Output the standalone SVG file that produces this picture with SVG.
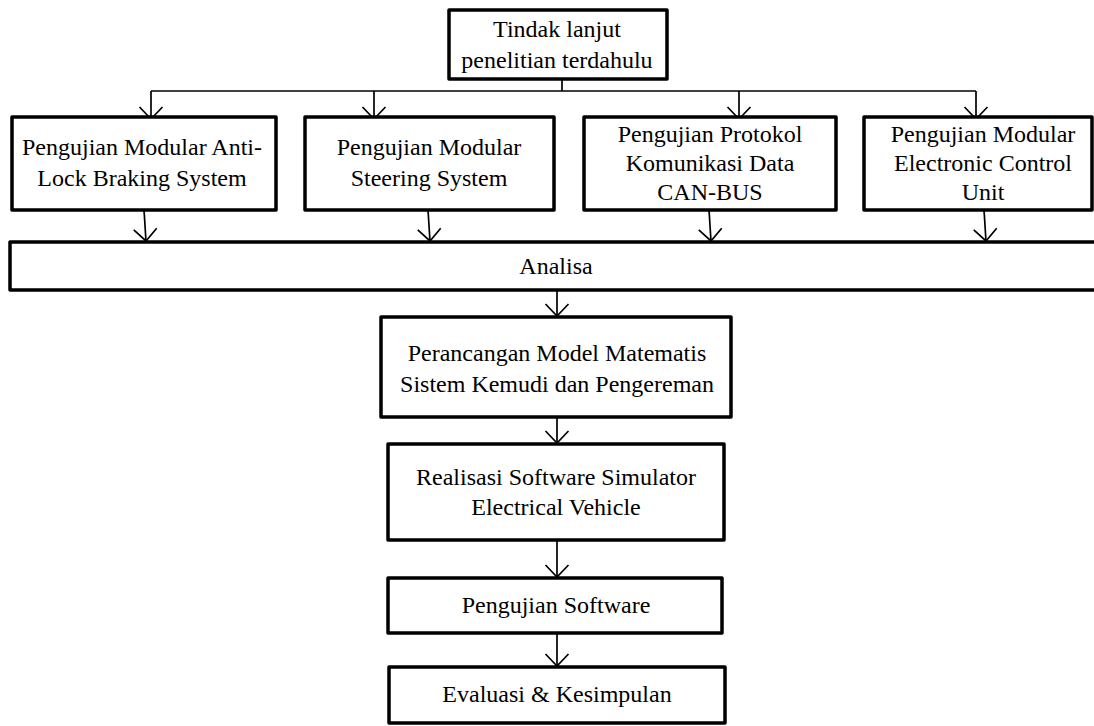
<svg xmlns="http://www.w3.org/2000/svg" width="1094" height="726" viewBox="0 0 1094 726">
  <style>
    .box { fill: #ffffff; stroke: #000000; stroke-width: 3.5; stroke-linejoin: round; }
    .lbl { font-family: "Liberation Serif", "Times New Roman", serif; font-size: 24px; fill: #000000; text-anchor: middle; }
    .wire { fill: none; stroke: #000000; stroke-width: 1.7; }
  </style>
  <defs>
    <marker id="arrow" markerUnits="userSpaceOnUse" markerWidth="30" markerHeight="30" viewBox="-15 -15 30 30" refX="0" refY="0" orient="auto" overflow="visible">
      <path d="M -12 -11.5 L 0 0 L -12 11.5" fill="none" stroke="#000000" stroke-width="1.7"/>
    </marker>
  </defs>
  <rect width="1094" height="726" fill="#ffffff"/>

  <!-- connectors -->
  <g id="connectors">
    <line class="wire" x1="562" y1="79" x2="562" y2="91"/>
    <line class="wire" x1="151" y1="91" x2="976" y2="91"/>
    <line class="wire" x1="151" y1="91" x2="151" y2="119" marker-end="url(#arrow)"/>
    <line class="wire" x1="374" y1="91" x2="374" y2="119" marker-end="url(#arrow)"/>
    <line class="wire" x1="739" y1="91" x2="739" y2="119" marker-end="url(#arrow)"/>
    <line class="wire" x1="976" y1="91" x2="976" y2="119" marker-end="url(#arrow)"/>
    <line class="wire" x1="144" y1="210" x2="146" y2="241" marker-end="url(#arrow)"/>
    <line class="wire" x1="428" y1="210" x2="430" y2="241" marker-end="url(#arrow)"/>
    <line class="wire" x1="709" y1="210" x2="711" y2="241" marker-end="url(#arrow)"/>
    <line class="wire" x1="984" y1="210" x2="986" y2="241" marker-end="url(#arrow)"/>
    <line class="wire" x1="557" y1="290" x2="557" y2="316" marker-end="url(#arrow)"/>
    <line class="wire" x1="557" y1="417" x2="557" y2="443" marker-end="url(#arrow)"/>
    <line class="wire" x1="557" y1="540" x2="557" y2="577" marker-end="url(#arrow)"/>
    <line class="wire" x1="557" y1="633" x2="557" y2="666" marker-end="url(#arrow)"/>
  </g>

  <!-- nodes -->
  <g id="node-tindak-lanjut">
    <rect class="box" x="449" y="10" width="218" height="69"/>
    <text class="lbl" x="557" y="37">Tindak lanjut</text>
    <text class="lbl" x="557" y="68">penelitian terdahulu</text>
  </g>
  <g id="node-abs">
    <rect class="box" x="12" y="117" width="264" height="93"/>
    <text class="lbl" x="142" y="155">Pengujian Modular Anti-</text>
    <text class="lbl" x="142" y="186">Lock Braking System</text>
  </g>
  <g id="node-steering">
    <rect class="box" x="305" y="117" width="249" height="93"/>
    <text class="lbl" x="429" y="155">Pengujian Modular</text>
    <text class="lbl" x="429" y="186">Steering System</text>
  </g>
  <g id="node-canbus">
    <rect class="box" x="584" y="117" width="252" height="93"/>
    <text class="lbl" x="710" y="142">Pengujian Protokol</text>
    <text class="lbl" x="710" y="171">Komunikasi Data</text>
    <text class="lbl" x="710" y="200">CAN-BUS</text>
  </g>
  <g id="node-ecu">
    <rect class="box" x="864" y="117" width="228" height="93"/>
    <text class="lbl" x="983" y="142">Pengujian Modular</text>
    <text class="lbl" x="983" y="171">Electronic Control</text>
    <text class="lbl" x="983" y="200">Unit</text>
  </g>
  <g id="node-analisa">
    <rect class="box" x="10" y="242" width="1092" height="48"/>
    <text class="lbl" x="556" y="274">Analisa</text>
  </g>
  <g id="node-model">
    <rect class="box" x="381" y="317" width="350" height="100"/>
    <text class="lbl" x="557" y="361">Perancangan Model Matematis</text>
    <text class="lbl" x="557" y="392">Sistem Kemudi dan Pengereman</text>
  </g>
  <g id="node-simulator">
    <rect class="box" x="388" y="444" width="336" height="96"/>
    <text class="lbl" x="556" y="485">Realisasi Software Simulator</text>
    <text class="lbl" x="556" y="515">Electrical Vehicle</text>
  </g>
  <g id="node-pengujian">
    <rect class="box" x="388" y="578" width="334" height="55"/>
    <text class="lbl" x="556" y="613">Pengujian Software</text>
  </g>
  <g id="node-evaluasi">
    <rect class="box" x="389" y="667" width="336" height="56"/>
    <text class="lbl" x="557" y="702">Evaluasi &amp; Kesimpulan</text>
  </g>
</svg>
